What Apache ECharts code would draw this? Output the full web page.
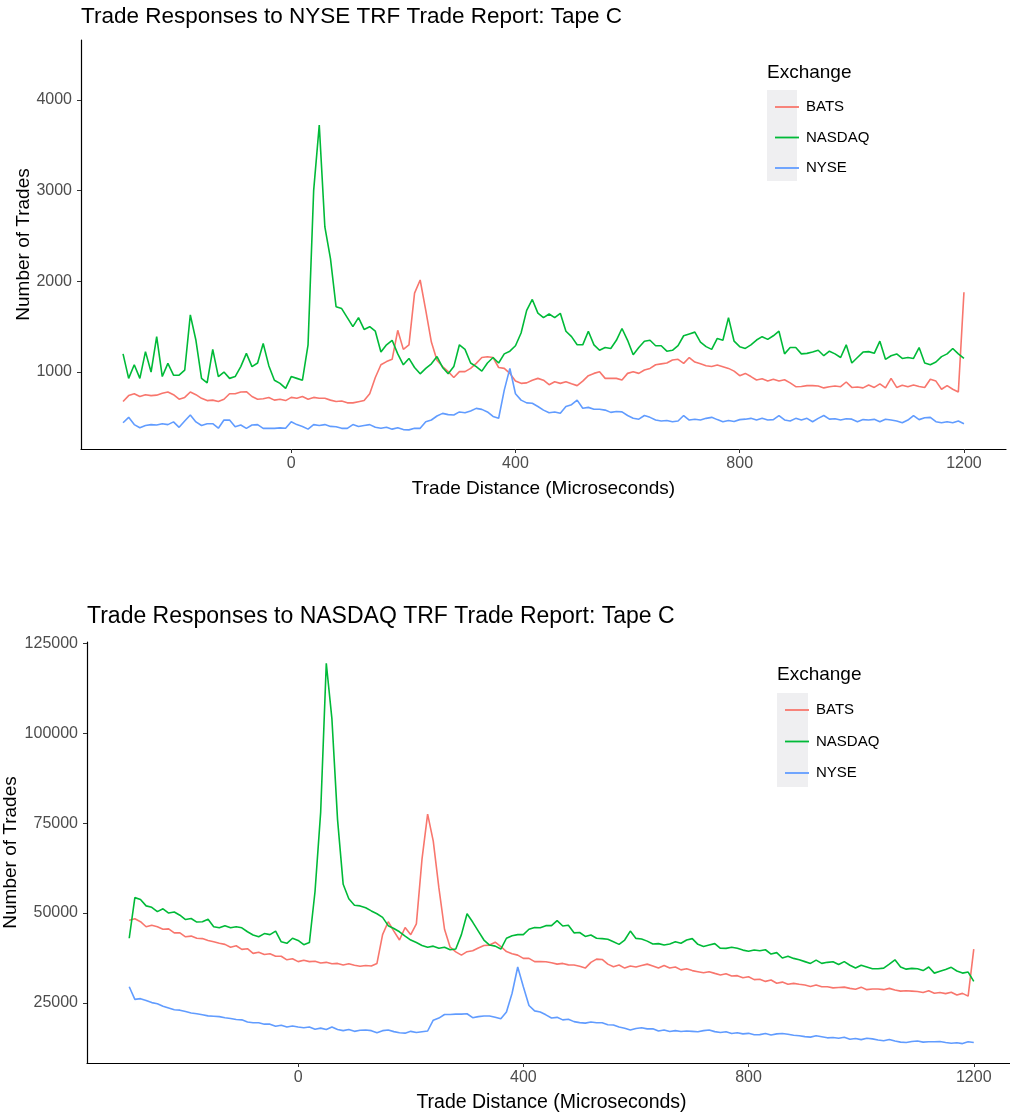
<!DOCTYPE html>
<html>
<head>
<meta charset="utf-8">
<script src="https://cdn.jsdelivr.net/npm/echarts@6/dist/echarts.min.js"></script>
<style>
  html, body { margin: 0; padding: 0; background: #fff; }
  #chart { width: 1010px; height: 1112px; }
</style>
</head>
<body>
<div id="chart"></div>
<script>
// trade distance grid, microseconds (-300 .. 1200, step 10)
const dist = [];
for (let d = -300; d <= 1200; d += 10) dist.push(d);

const exchanges = ['BATS', 'NASDAQ', 'NYSE'];
const colors = ['#F8766D', '#00BA38', '#619CFF'];

// panel 1: responses to NYSE TRF trade report
const nyseBats = [
  675, 740, 760, 730, 750, 740, 745, 765, 780, 750,
  700, 720, 780, 750, 710, 685, 690, 675, 700, 760,
  760, 780, 783, 730, 700, 705, 720, 690, 700, 685,
  720, 710, 730, 700, 720, 710, 710, 690, 675, 680,
  660, 660, 673, 685, 760, 940, 1080, 1115, 1140, 1460,
  1250, 1300, 1870, 2015, 1680, 1330, 1130, 1060, 1004, 940,
  1004, 1004, 1040, 1096, 1160, 1169, 1160, 1050, 1040, 985,
  900, 875, 880, 910, 930, 910, 860, 893, 875, 893,
  870, 850, 900, 960, 985, 1004, 930, 930, 930, 912,
  985, 1004, 985, 1022, 1040, 1080, 1090, 1100, 1132, 1140,
  1096, 1160, 1110, 1090, 1070, 1060, 1077, 1059, 1040, 1010,
  960, 985, 950, 912, 925, 900, 920, 900, 915, 880,
  838, 840, 850, 850, 845, 825, 838, 845, 838, 890,
  830, 835, 825, 857, 830, 870, 825, 930, 830, 855,
  838, 857, 840, 830, 920, 900, 810, 850, 810, 780,
  1880
];
const nyseNasdaq = [
  1200, 930, 1080, 930, 1225, 1000, 1390, 950, 1095, 965,
  965, 1020, 1630, 1350, 930, 880, 1250, 950, 1000, 930,
  950, 1060, 1205, 1060, 1100, 1315, 1070, 910, 875, 820,
  950, 930, 910, 1300, 3000, 3725, 2600, 2250, 1720, 1700,
  1600, 1500, 1600, 1470, 1500, 1450, 1220, 1300, 1350, 1200,
  1080, 1150, 1050, 980, 1040, 1090, 1170, 1050, 980, 1060,
  1300, 1250, 1100, 1060, 1010, 1100, 1160, 1100, 1200, 1230,
  1290, 1430, 1680, 1800, 1650, 1600, 1640, 1600, 1647, 1450,
  1390, 1300, 1300, 1450, 1300, 1240, 1270, 1260, 1350, 1480,
  1350, 1190, 1270, 1340, 1350, 1290, 1290, 1230, 1240, 1290,
  1400, 1420, 1440, 1330, 1280, 1250, 1370, 1350, 1600, 1340,
  1280, 1260, 1300, 1353, 1390, 1360, 1400, 1450, 1200, 1270,
  1270, 1200, 1206, 1220, 1240, 1180, 1230, 1200, 1160, 1300,
  1100, 1160, 1220, 1225, 1206, 1340, 1140, 1180, 1200, 1150,
  1160, 1150, 1270, 1100, 1080, 1110, 1170, 1200, 1260, 1200,
  1150
];
const nyseNyse = [
  440, 500, 420, 385, 410, 420, 415, 430, 420, 450,
  390, 460, 526, 450, 410, 430, 430, 380, 470, 470,
  397, 415, 379, 415, 420, 379, 379, 379, 384, 380,
  452, 420, 400, 370, 420, 410, 420, 400, 397, 379,
  379, 420, 400, 410, 420, 390, 379, 390, 370, 385,
  365, 362, 379, 379, 452, 471, 515, 544, 530, 526,
  560, 550, 570, 599, 588, 560, 510, 490, 800, 1040,
  760, 690, 660, 655, 620, 580, 550, 560, 545, 620,
  640, 690, 600, 610, 590, 590, 580, 555, 565, 560,
  520, 490, 480, 520, 500, 471, 460, 465, 452, 460,
  520, 470, 480, 471, 489, 500, 475, 452, 465, 455,
  475, 480, 489, 471, 489, 471, 475, 520, 471, 460,
  489, 471, 489, 452, 489, 520, 480, 485, 471, 485,
  480, 452, 475, 471, 478, 452, 480, 471, 460, 440,
  470, 520, 475, 495, 500, 452, 441, 452, 441, 460,
  430
];

// panel 2: responses to NASDAQ TRF trade report
const nasdaqBats = [
  48000, 48400, 47600, 46200, 46600, 46200, 45500, 45600, 44500, 44500,
  43400, 43600, 43000, 42900, 42400, 42000, 41600, 41300, 40500, 40900,
  39900, 40100, 38800, 39100, 38500, 38700, 38000, 38000, 37000, 37300,
  36500, 36900, 36500, 36600, 36100, 36300, 35900, 36000, 35560, 35900,
  35500, 35200, 35400, 35300, 36000, 44000, 47600, 45000, 42500, 46000,
  44000, 47000, 65000, 77500, 70000, 57000, 45500, 40500, 39200, 38300,
  39260, 39500, 40300, 41000, 41100, 41900, 40700, 39300, 38700, 38300,
  37400, 37400, 36500, 36500, 36480, 36200, 35800, 36000, 35600, 35560,
  35200, 34700, 36300, 37200, 37100, 35800, 35100, 35560, 34700, 35300,
  35000, 35400, 35800, 35300, 34700, 35400, 34700, 35000, 34200, 34500,
  34000, 33700, 33400, 33700, 33230, 32800, 33100, 32500, 32600, 32000,
  32300, 31500, 31600, 31000, 31380, 30500, 30800, 30200, 30450, 30200,
  29990, 29600, 29990, 29500, 29520, 29200, 29300, 29400, 29060, 28800,
  29400, 28700, 28900, 28900, 28700, 29060, 28600, 28300, 28400, 28300,
  28200, 27900, 28400, 27700, 27900, 27600, 28000, 27200, 27670, 26900,
  40000
];
const nasdaqNasdaq = [
  43000, 54300, 53800, 52000, 51600, 50400, 51200, 50000, 50300, 49400,
  48200, 48500, 47500, 47600, 48300, 46200, 45900, 46500, 45900, 46200,
  45900, 44800, 43900, 43400, 44300, 44000, 45000, 42000, 41600, 43000,
  42400, 41200, 41800, 56000, 78000, 119500, 104000, 76000, 58000, 54000,
  52200, 52000, 51500, 50600, 49800, 48800, 46500, 45700, 44800, 43600,
  42500, 41800, 41000, 40500, 40800, 40200, 40500, 39800, 40000, 44000,
  49800, 47500, 45000, 42500, 41100, 40800, 40000, 43000, 43700, 44000,
  44000, 45500, 46000, 45900, 46500, 46500, 47900, 46400, 46600, 44500,
  44600, 43500, 43900, 43000, 42900, 42700, 42000, 41300, 42500, 45000,
  42960, 42800, 42200, 41400, 41500, 41100, 41400, 42000, 41600, 42500,
  42900, 41300, 40700, 41100, 41500, 40200, 40190, 40500, 40200, 39700,
  39400, 39720, 39500, 39800, 38600, 39000, 37500, 38000, 37400, 37000,
  36500, 36000, 36900, 36010, 36300, 36470, 35700, 36500, 35500, 34700,
  35500, 35000, 34500, 34500, 34700, 35800, 37000, 35000, 34400, 34620,
  34500, 34000, 35000, 33300, 33800, 34300, 34900, 33900, 33300, 33600,
  31000
];
const nasdaqNyse = [
  29500, 26000, 26200, 25700, 25100, 24800, 24100, 23600, 23100, 23000,
  22600, 22200, 22000, 21700, 21400, 21300, 21200, 20900, 20700, 20400,
  20300, 19700, 19500, 19500, 19100, 19100, 18500, 18800, 18300, 18600,
  18300, 18100, 18300, 17700, 18000, 17600, 18300, 17600, 17300, 17600,
  17100, 17400, 17500, 17300, 16700, 17300, 17500, 17030, 16700, 16600,
  17100, 16800, 17000, 17200, 20200, 20800, 21800, 21800, 21900, 21900,
  22000, 20900, 21200, 21390, 21390, 21000, 20600, 22500, 27700, 35000,
  29500, 24300, 22800, 22500, 21700, 20800, 21000, 20300, 20450, 19810,
  19540, 19400, 19700, 19500, 19500, 18950, 18890, 18300, 17960, 17500,
  17900, 18100, 17800, 17800, 17200, 17500, 17050, 17300, 17050, 17200,
  17100, 17000, 17300, 17500, 17030, 16800, 17000, 16500, 16700, 16400,
  16550, 16150, 16200, 16500, 16100, 16400, 16500, 16300, 16000, 15900,
  15640, 15500, 15900, 15600, 15300, 15400, 15200, 15460, 14900, 15100,
  14800, 15200, 15000, 14720, 14500, 14850, 14400, 14100, 14000, 14260,
  14400, 14100, 14200, 14200, 14300, 14000, 13800, 13950, 13700, 14200,
  14000
];

const xTicks = [0, 400, 800, 1200];
const yTicksTop = [1000, 2000, 3000, 4000];
const yTicksBottom = [25000, 50000, 75000, 100000, 125000];

const font = 'Liberation Sans, Arial, Helvetica, sans-serif';

function pair(vals) {
  return dist.map((d, i) => [d, vals[i]]);
}

function xAxisFor(gridIndex, nameSize) {
  return {
    type: 'value', gridIndex: gridIndex, min: -375, max: 1275,
    name: 'Trade Distance (Microseconds)', nameLocation: 'middle', nameGap: 30,
    nameMoveOverlap: false,
    nameTextStyle: { fontSize: nameSize, color: '#000', fontFamily: font },
    axisLine: { show: true, onZero: false, lineStyle: { color: '#000', width: 1.2 } },
    axisTick: { show: true, length: 4, lineStyle: { color: '#333' }, customValues: xTicks },
    axisLabel: { fontSize: 16, color: '#4d4d4d', margin: 7, fontFamily: font,
      customValues: xTicks, formatter: v => String(v) },
    splitLine: { show: false }
  };
}

function yAxisFor(gridIndex, min, max, ticks, gap) {
  return {
    type: 'value', gridIndex: gridIndex, min: min, max: max,
    name: 'Number of Trades', nameLocation: 'middle', nameGap: gap,
    nameMoveOverlap: false,
    nameTextStyle: { fontSize: 19, color: '#000', fontFamily: font },
    axisLine: { show: true, onZero: false, lineStyle: { color: '#000', width: 1.2 } },
    axisTick: { show: true, length: 4, lineStyle: { color: '#333' }, customValues: ticks },
    axisLabel: { fontSize: 16, color: '#4d4d4d', margin: 9, fontFamily: font,
      customValues: ticks, formatter: v => String(v) },
    splitLine: { show: false }
  };
}

function lines(panel, idx) {
  return panel.map((vals, k) => ({
    name: exchanges[k], type: 'line', xAxisIndex: idx, yAxisIndex: idx,
    data: pair(vals), symbol: 'none', color: colors[k],
    lineStyle: { width: 1.6, color: colors[k] }
  }));
}

function legendAt(left, top, gap) {
  return {
    data: exchanges, orient: 'vertical', left: left, top: top, z: 5,
    icon: 'rect', itemWidth: 24, itemHeight: 1.8, itemGap: gap,
    selectedMode: false,
    textStyle: { fontSize: 15, color: '#000', fontFamily: font, lineHeight: 16, padding: [0, 0, 0, 2] }
  };
}

const chart = echarts.init(document.getElementById('chart'));
chart.setOption({
  animation: false,
  backgroundColor: '#fff',
  title: [
    { text: 'Trade Responses to NYSE TRF Trade Report: Tape C', left: 81, top: 5, padding: 0,
      textStyle: { fontSize: 22.5, fontWeight: 'normal', color: '#000', fontFamily: font } },
    { text: 'Trade Responses to NASDAQ TRF Trade Report: Tape C', left: 87, top: 605, padding: 0,
      textStyle: { fontSize: 23, fontWeight: 'normal', color: '#000', fontFamily: font } },
    { text: 'Exchange', left: 767, top: 63, padding: 0,
      textStyle: { fontSize: 19, fontWeight: 'normal', color: '#000', fontFamily: font } },
    { text: 'Exchange', left: 777, top: 665, padding: 0,
      textStyle: { fontSize: 19, fontWeight: 'normal', color: '#000', fontFamily: font } }
  ],
  graphic: [
    { type: 'rect', z: 0, shape: { x: 767, y: 90, width: 30, height: 91 }, style: { fill: '#efeff1' } },
    { type: 'rect', z: 0, shape: { x: 777, y: 693, width: 31, height: 94 }, style: { fill: '#efeff1' } }
  ],
  legend: [legendAt(770, 94, 14.5), legendAt(780, 697, 15.5)],
  grid: [
    { left: 81, top: 40, width: 925, height: 409, outerBoundsMode: 'none' },
    { left: 87, top: 642, width: 929, height: 421, outerBoundsMode: 'none' }
  ],
  xAxis: [xAxisFor(0, 19), xAxisFor(1, 19.5)],
  yAxis: [
    yAxisFor(0, 151, 4662, yTicksTop, 48),
    yAxisFor(1, 8300, 125400, yTicksBottom, 67)
  ],
  series: lines([nyseBats, nyseNasdaq, nyseNyse], 0)
    .concat(lines([nasdaqBats, nasdaqNasdaq, nasdaqNyse], 1))
});
</script>
</body>
</html>
